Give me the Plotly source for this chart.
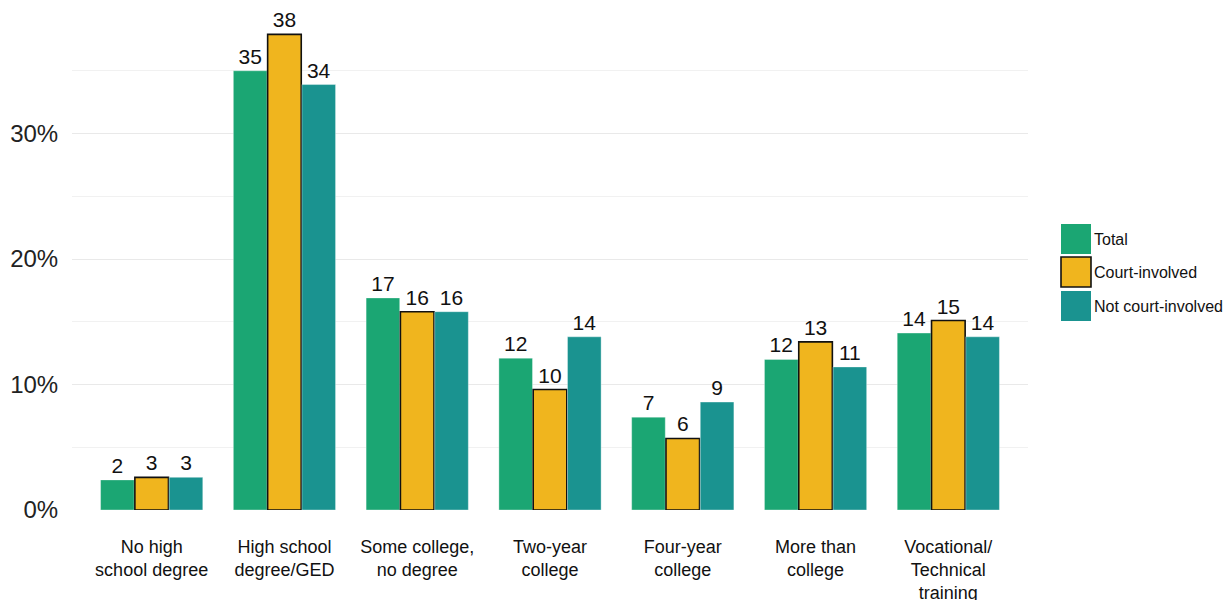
import plotly.graph_objects as go

# Share of respondents by highest education level (%)
categories = [
    "No high<br>school degree",
    "High school<br>degree/GED",
    "Some college,<br>no degree",
    "Two-year<br>college",
    "Four-year<br>college",
    "More than<br>college",
    "Vocational/<br>Technical<br>training",
]
series_names = ["Total", "Court-involved", "Not court-involved"]
total = [2.4, 35.0, 16.9, 12.1, 7.4, 12.0, 14.1]
court_involved = [2.6, 37.9, 15.8, 9.6, 5.7, 13.4, 15.1]
not_court_involved = [2.6, 33.9, 15.8, 13.8, 8.6, 11.4, 13.8]
y_tick_values = [0, 10, 20, 30]
y_tick_labels = ["0%", "10%", "20%", "30%"]

colors = ["#1ba673", "#f0b51e", "#1a9390"]
outline_colors = ["rgba(255,255,255,0.6)", "#111111", "rgba(255,255,255,0.6)"]
outline_widths = [0.6, 1.6, 0.6]

FONT = "Liberation Sans, Arial, sans-serif"
W, H = 1229, 600
M_L, M_R, M_T, M_B = 72, 201, 20, 90

fig = go.Figure()
for name, vals, col, lc, lw in zip(series_names,
                                   [total, court_involved, not_court_involved],
                                   colors, outline_colors, outline_widths):
    fig.add_trace(go.Bar(
        name=name,
        x=list(range(len(categories))),
        y=vals,
        marker=dict(color=col, line=dict(color=lc, width=lw)),
        text=[f"{v:.0f}" for v in vals],
        textposition="outside",
        textfont=dict(family=FONT, size=21, color="#111111"),
        cliponaxis=False,
        showlegend=False,
    ))

# Legend keys drawn as boxes to the right of the plot area
plot_w = W - M_L - M_R
plot_h = H - M_T - M_B


def px_x(px):
    return (px - M_L) / plot_w


def px_y(py):
    return (H - M_B - py) / plot_h


shapes = []
annotations = []
key_tops = [224, 257, 291]
for name, col, lc, top in zip(series_names, colors, ["rgba(0,0,0,0)", "#111111", "rgba(0,0,0,0)"], key_tops):
    shapes.append(dict(
        type="rect", xref="paper", yref="paper",
        x0=px_x(1061), x1=px_x(1091), y0=px_y(top + 30), y1=px_y(top),
        fillcolor=col, line=dict(color=lc, width=1.6 if name == "Court-involved" else 0),
    ))
    annotations.append(dict(
        xref="paper", yref="paper", x=px_x(1092), y=px_y(top + 15),
        text=name, showarrow=False, xanchor="left", yanchor="middle",
        font=dict(family=FONT, size=16, color="#111111"),
    ))

fig.update_layout(
    width=W, height=H,
    margin=dict(l=M_L, r=M_R, t=M_T, b=M_B),
    paper_bgcolor="white",
    plot_bgcolor="white",
    barmode="group",
    bargap=0.225,
    bargroupgap=0.02,
    shapes=shapes,
    annotations=annotations,
    font=dict(family=FONT, color="#111111"),
)
fig.update_xaxes(
    tickmode="array",
    tickvals=list(range(len(categories))),
    ticktext=categories,
    range=[-0.6, len(categories) - 0.4],
    automargin=False,
    showgrid=False,
    zeroline=False,
    showline=False,
    ticks="outside",
    ticklen=20,
    tickcolor="rgba(0,0,0,0)",
    tickfont=dict(family=FONT, size=18, color="#111111"),
)
fig.update_yaxes(
    range=[0, plot_h / 12.55],
    automargin=False,
    tickmode="array",
    tickvals=y_tick_values,
    ticktext=y_tick_labels,
    showgrid=True,
    gridcolor="#e9e9e9",
    gridwidth=1.3,
    minor=dict(dtick=5, tick0=0, showgrid=True, gridcolor="#f1f1f1", gridwidth=1),
    zeroline=False,
    showline=False,
    ticks="outside",
    ticklen=8,
    tickcolor="rgba(0,0,0,0)",
    tickfont=dict(family=FONT, size=24, color="#222222"),
)

fig.write_html("out.html")
